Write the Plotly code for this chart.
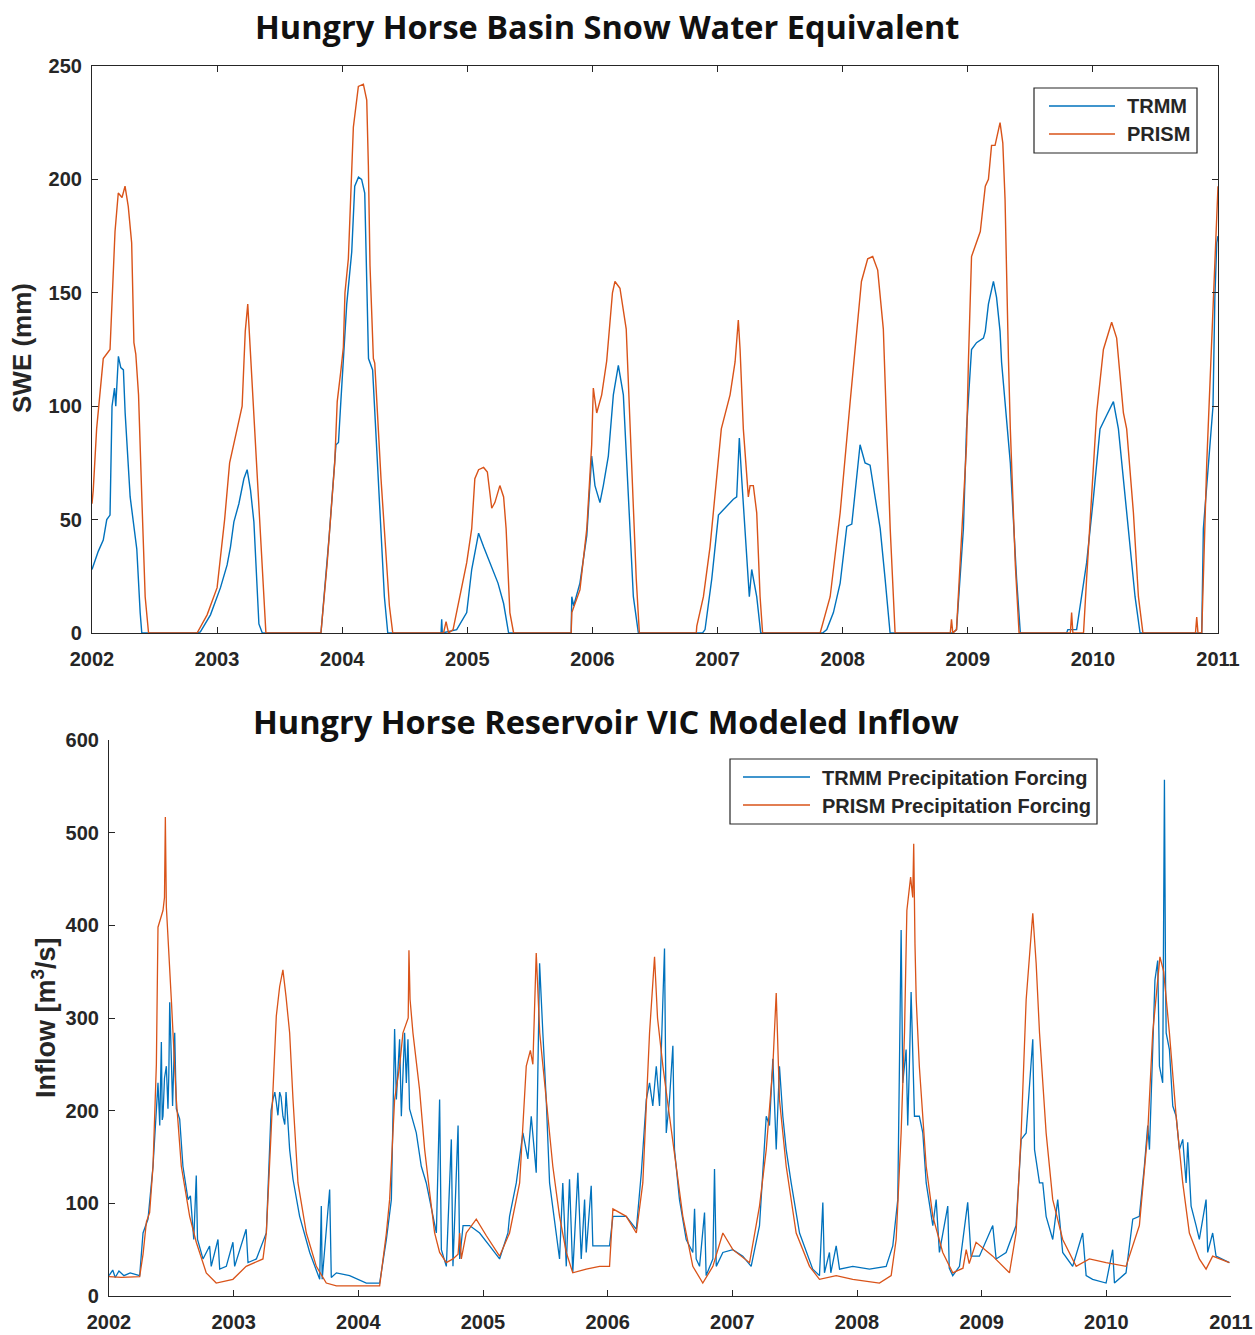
import plotly.graph_objects as go

W, H = 1255, 1335

# ---------------- Data (decimal years) ----------------
swe_trmm_t = [2002.00, 2002.05, 2002.09, 2002.118, 2002.144, 2002.16, 2002.18, 2002.19, 2002.211, 2002.23, 2002.251, 2002.265, 2002.305, 2002.345, 2002.358, 2002.385, 2002.398,
              2002.84, 2002.866, 2002.947, 2003.027, 2003.08, 2003.107, 2003.134, 2003.174, 2003.214, 2003.24, 2003.267, 2003.294, 2003.334, 2003.361,
              2003.83, 2003.896, 2003.95, 2003.97, 2003.99, 2004.009, 2004.036, 2004.076, 2004.10, 2004.13, 2004.155, 2004.18, 2004.195, 2004.21, 2004.243, 2004.283, 2004.337, 2004.364,
              2004.79, 2004.795, 2004.80, 2004.915, 2004.995, 2005.035, 2005.09, 2005.13, 2005.18, 2005.245, 2005.29, 2005.33,
              2005.83, 2005.835, 2005.85, 2005.90, 2005.955, 2005.994, 2006.02, 2006.06, 2006.087, 2006.127, 2006.167, 2006.207, 2006.247, 2006.287, 2006.327, 2006.367,
              2006.88, 2006.90, 2006.954, 2007.007, 2007.06, 2007.126, 2007.153, 2007.174, 2007.193, 2007.233, 2007.254, 2007.273, 2007.313, 2007.345,
              2007.84, 2007.873, 2007.926, 2007.98, 2008.033, 2008.073, 2008.113, 2008.139, 2008.179, 2008.219, 2008.259, 2008.30, 2008.339, 2008.379,
              2008.88, 2008.91, 2008.965, 2008.99, 2009.03, 2009.07, 2009.125, 2009.14, 2009.165, 2009.205, 2009.23, 2009.258, 2009.27, 2009.34, 2009.39, 2009.42,
              2009.79, 2009.80, 2009.87, 2009.95, 2010.005, 2010.057, 2010.11, 2010.164, 2010.204, 2010.244, 2010.284, 2010.337, 2010.377,
              2010.87, 2010.883, 2010.937, 2010.96, 2010.975, 2010.99, 2011.0]
swe_trmm_v = [28, 36, 41, 50, 52, 100, 108, 100, 122, 117, 116, 97, 60, 43, 37, 9, 0,
              0, 0.5, 8, 20, 30, 38, 49, 57, 68, 72, 63, 49, 4, 0,
              0, 43, 83, 84, 103, 121, 145, 168, 197, 201, 200, 194, 162, 121, 116, 75, 16, 0,
              0, 6, 0, 1.5, 9, 28, 44, 38, 31, 22, 13, 0,
              0, 16, 12, 22, 43, 78, 65, 57.5, 65, 78, 105, 118, 105, 60, 16, 0,
              0, 1.5, 24, 52, 55, 59, 60, 86, 68, 31, 16, 28, 16, 0,
              0, 1.5, 9, 22, 47, 48, 68, 83, 75, 74, 60, 46, 24, 0,
              0, 1.5, 46, 90, 125, 128, 130, 133, 145, 155, 148, 133, 119.5, 75, 24, 0,
              0, 1.5, 1.5, 31, 60, 90, 96, 102, 90, 68, 46, 16, 0,
              0, 46, 83, 100, 148, 172, 175]

swe_prism_t = [2002.00, 2002.01, 2002.037, 2002.064, 2002.09, 2002.144, 2002.17, 2002.184, 2002.21, 2002.24, 2002.264, 2002.29, 2002.317, 2002.335, 2002.35, 2002.372, 2002.398, 2002.425, 2002.452,
               2002.84, 2002.92, 2003.00, 2003.06, 2003.10, 2003.16, 2003.20, 2003.215, 2003.225, 2003.245, 2003.255, 2003.275, 2003.31, 2003.35, 2003.39,
               2003.83, 2003.88, 2003.94, 2003.96, 2003.99, 2004.009, 2004.022, 2004.049, 2004.089, 2004.129, 2004.169, 2004.196, 2004.209, 2004.222, 2004.249, 2004.26, 2004.31, 2004.377, 2004.404,
               2004.81, 2004.83, 2004.85, 2004.886, 2004.93, 2004.995, 2005.035, 2005.06, 2005.09, 2005.13, 2005.16, 2005.195, 2005.22, 2005.26, 2005.29, 2005.31, 2005.34, 2005.37,
               2005.83, 2005.835, 2005.90, 2005.955, 2005.994, 2006.007, 2006.034, 2006.074, 2006.114, 2006.16, 2006.18, 2006.22, 2006.27, 2006.31, 2006.35, 2006.375,
               2006.83, 2006.834, 2006.887, 2006.94, 2006.994, 2007.03, 2007.10, 2007.14, 2007.166, 2007.18, 2007.206, 2007.246, 2007.26, 2007.286, 2007.313, 2007.34, 2007.36,
               2007.82, 2007.90, 2007.98, 2008.06, 2008.113, 2008.15, 2008.20, 2008.24, 2008.28, 2008.325, 2008.352, 2008.38, 2008.419,
               2008.86, 2008.87, 2008.88, 2008.91, 2008.94, 2008.99, 2009.005, 2009.03, 2009.10, 2009.14, 2009.165, 2009.19, 2009.218, 2009.258, 2009.28, 2009.298, 2009.325, 2009.34, 2009.38, 2009.41,
               2009.82, 2009.83, 2009.84, 2009.925, 2009.95, 2009.99, 2010.03, 2010.084, 2010.15, 2010.19, 2010.244, 2010.27, 2010.324, 2010.364, 2010.40,
               2010.82, 2010.83, 2010.84, 2010.87, 2010.91, 2010.95, 2010.98, 2011.0]
swe_prism_v = [57, 63, 90, 105, 121, 125, 160, 177, 194, 192, 197, 188, 172, 128, 123, 105, 60, 16, 0,
               0, 8, 20, 50, 75, 90, 100, 120, 133, 145, 135, 115, 82, 38, 0,
               0, 31, 75, 102, 116, 126, 150, 165, 223, 241, 242, 235, 206, 162, 121, 119, 68, 12, 0,
               0, 5, 0, 1.5, 13, 31, 46, 68, 72, 73, 71, 55, 57.5, 65, 60, 46, 9, 0,
               0, 9, 19, 46, 83, 108, 97, 105, 120, 150, 155, 152, 134, 75, 24, 0,
               0, 3, 16, 38, 68, 90, 105, 119.5, 138, 125, 90, 60, 65, 65, 53, 16, 0,
               0, 16, 53, 102, 134, 155, 165, 166, 160, 134, 90, 46, 0,
               0, 6, 0, 1.5, 31, 83, 119.5, 166, 177, 197, 200, 215, 215, 225, 216, 191, 121, 90, 30, 0,
               0, 9, 0, 0, 24, 60, 97, 125, 137, 130, 97, 90, 53, 16, 0,
               0, 7, 0, 0, 75, 134, 170, 197]

inflow_prism_t = [2002.00, 2002.10, 2002.246, 2002.273, 2002.30, 2002.326, 2002.353, 2002.38, 2002.393, 2002.433, 2002.445, 2002.452, 2002.46, 2002.473, 2002.487, 2002.50, 2002.54, 2002.58, 2002.647, 2002.70, 2002.78, 2002.86, 2002.994,
                  2003.10, 2003.235, 2003.262, 2003.30, 2003.342, 2003.369, 2003.395, 2003.42, 2003.449, 2003.476, 2003.516, 2003.583, 2003.663, 2003.743, 2003.824,
                  2004.171, 2004.225, 2004.251, 2004.291, 2004.331, 2004.358, 2004.40, 2004.406, 2004.415, 2004.438, 2004.491, 2004.532, 2004.572, 2004.612, 2004.652, 2004.706, 2004.759, 2004.80, 2004.813, 2004.826, 2004.866, 2004.946,
                  2005.027, 2005.133, 2005.213, 2005.294, 2005.347, 2005.38, 2005.40, 2005.427, 2005.455, 2005.507, 2005.56, 2005.614, 2005.668, 2005.72, 2005.828, 2005.935,
                  2006.015, 2006.042, 2006.149, 2006.23, 2006.282, 2006.336, 2006.376, 2006.40, 2006.443, 2006.496, 2006.55, 2006.603, 2006.683, 2006.763, 2006.844, 2006.924,
                  2007.004, 2007.138, 2007.218, 2007.272, 2007.325, 2007.352, 2007.378, 2007.432, 2007.512, 2007.619, 2007.699, 2007.833, 2007.966,
                  2008.18, 2008.274, 2008.314, 2008.354, 2008.381, 2008.40, 2008.43, 2008.447, 2008.455, 2008.465, 2008.475, 2008.50, 2008.555, 2008.608, 2008.688, 2008.768, 2008.85, 2008.876, 2008.90, 2008.955,
                  2009.089, 2009.223, 2009.276, 2009.317, 2009.357, 2009.41, 2009.437, 2009.464, 2009.517, 2009.57, 2009.65, 2009.758, 2009.864, 2009.998,
                  2010.158, 2010.265, 2010.332, 2010.372, 2010.41, 2010.43, 2010.46, 2010.506, 2010.56, 2010.613, 2010.666, 2010.746, 2010.80, 2010.853, 2010.987]
inflow_prism_v = [21, 20, 21, 45, 80, 90, 140, 250, 398, 416, 430, 517, 420, 391, 359, 320, 212, 140, 86, 58, 25, 14, 18,
                  32, 40, 68, 176, 302, 334, 352, 323, 284, 212, 122, 68, 32, 14, 11,
                  11, 68, 104, 212, 248, 284, 300, 373, 320, 284, 223, 158, 112, 68, 47, 36, 40, 45, 68, 40, 68, 83,
                  65, 43, 68, 122, 248, 265, 250, 370, 284, 212, 140, 86, 47, 25, 29, 32,
                  32, 94, 86, 68, 122, 284, 366, 300, 248, 194, 140, 86, 32, 14, 32, 68,
                  50, 36, 97, 158, 248, 327, 212, 140, 68, 32, 18, 22, 18,
                  14, 22, 61, 176, 284, 416, 452, 430, 488, 380, 320, 248, 140, 86, 47, 25, 30, 50, 35, 58,
                  43, 25, 68, 176, 320, 413, 359, 284, 176, 104, 61, 32, 40, 36,
                  32, 76, 176, 284, 340, 366, 350, 284, 194, 122, 68, 40, 29, 43, 36]

inflow_trmm_t = [2002.00, 2002.03, 2002.05, 2002.08, 2002.12, 2002.17, 2002.246, 2002.273, 2002.313, 2002.353, 2002.393, 2002.40, 2002.407, 2002.42, 2002.427, 2002.433, 2002.445, 2002.46, 2002.473, 2002.48, 2002.487, 2002.50, 2002.51, 2002.527, 2002.54, 2002.567, 2002.593, 2002.634, 2002.653, 2002.68, 2002.70, 2002.71, 2002.754, 2002.807, 2002.82, 2002.874, 2002.888, 2002.941, 2002.994,
                 2003.008, 2003.10, 2003.115, 2003.182, 2003.262, 2003.289, 2003.30, 2003.315, 2003.33, 2003.342, 2003.355, 2003.369, 2003.38, 2003.395, 2003.41, 2003.42, 2003.449, 2003.476, 2003.529, 2003.61, 2003.69, 2003.703, 2003.71, 2003.77, 2003.783, 2003.824, 2003.93,
                 2004.064, 2004.171, 2004.225, 2004.265, 2004.291, 2004.305, 2004.331, 2004.345, 2004.371, 2004.385, 2004.398, 2004.411, 2004.465, 2004.505, 2004.545, 2004.572, 2004.626, 2004.652, 2004.666, 2004.706, 2004.746, 2004.759, 2004.80, 2004.813, 2004.84, 2004.893, 2004.973,
                 2005.053, 2005.133, 2005.20, 2005.213, 2005.267, 2005.32, 2005.36, 2005.387, 2005.427, 2005.44, 2005.454, 2005.48, 2005.507, 2005.534, 2005.588, 2005.614, 2005.64, 2005.668, 2005.694, 2005.72, 2005.761, 2005.788, 2005.815, 2005.828, 2005.868, 2005.881, 2005.935,
                 2006.015, 2006.042, 2006.149, 2006.23, 2006.27, 2006.31, 2006.336, 2006.362, 2006.39, 2006.416, 2006.443, 2006.456, 2006.47, 2006.496, 2006.523, 2006.536, 2006.576, 2006.63, 2006.683, 2006.697, 2006.71, 2006.737, 2006.777, 2006.79, 2006.844, 2006.857, 2006.871, 2006.924,
                 2007.004, 2007.084, 2007.151, 2007.218, 2007.272, 2007.298, 2007.325, 2007.352, 2007.378, 2007.405, 2007.432, 2007.472, 2007.539, 2007.645, 2007.699, 2007.726, 2007.739, 2007.779, 2007.79, 2007.833, 2007.86, 2007.966,
                 2008.10, 2008.234, 2008.287, 2008.327, 2008.354, 2008.367, 2008.394, 2008.407, 2008.42, 2008.434, 2008.461, 2008.50, 2008.528, 2008.555, 2008.608, 2008.635, 2008.661, 2008.728, 2008.74, 2008.768, 2008.822, 2008.888, 2008.915, 2008.982,
                 2009.089, 2009.116, 2009.196, 2009.276, 2009.317, 2009.357, 2009.41, 2009.424, 2009.464, 2009.49, 2009.517, 2009.57, 2009.61, 2009.65, 2009.73, 2009.81, 2009.838, 2009.89, 2009.998,
                 2010.051, 2010.065, 2010.158, 2010.212, 2010.265, 2010.305, 2010.332, 2010.346, 2010.372, 2010.39, 2010.412, 2010.426, 2010.452, 2010.466, 2010.475, 2010.48, 2010.506, 2010.533, 2010.56, 2010.586, 2010.613, 2010.64, 2010.653, 2010.68, 2010.72, 2010.746, 2010.80, 2010.813, 2010.853, 2010.88, 2010.987]
inflow_trmm_v = [22, 28, 20, 27, 22, 25, 22, 68, 83, 140, 230, 195, 184, 274, 190, 194, 235, 248, 202, 240, 317, 256, 205, 284, 202, 191, 140, 104, 108, 61, 130, 61, 40, 54, 32, 61, 29, 32, 58,
                 32, 72, 36, 40, 68, 158, 200, 212, 220, 209, 195, 220, 215, 194, 185, 220, 158, 126, 86, 47, 18, 97, 18, 115, 20, 25, 22,
                 14, 14, 61, 104, 288, 212, 277, 194, 284, 230, 277, 202, 176, 140, 122, 104, 68, 212, 50, 32, 169, 32, 184, 40, 76, 76, 68,
                 54, 40, 68, 86, 122, 176, 148, 194, 133, 248, 359, 284, 212, 122, 68, 40, 122, 32, 126, 25, 133, 40, 104, 47, 119, 54, 54,
                 54, 86, 86, 72, 133, 212, 230, 205, 248, 205, 320, 375, 176, 212, 270, 158, 104, 61, 47, 94, 40, 32, 90, 22, 40, 137, 32, 47,
                 50, 43, 32, 76, 194, 184, 256, 158, 248, 194, 158, 122, 68, 29, 22, 101, 25, 47, 25, 54, 29, 32,
                 29, 32, 54, 104, 395, 230, 266, 184, 248, 328, 194, 194, 176, 122, 76, 104, 47, 97, 30, 22, 32, 101, 43, 43,
                 76, 40, 47, 76, 169, 176, 277, 158, 122, 122, 86, 61, 104, 47, 32, 68, 22, 18, 14,
                 50, 14, 25, 83, 86, 140, 184, 158, 256, 341, 362, 248, 230, 557, 340, 284, 266, 205, 194, 158, 169, 122, 166, 97, 76, 61, 104, 47, 68, 43, 36]

years = list(range(2002, 2012))
year_labels = [str(y) for y in years]
swe_ticks = [0, 50, 100, 150, 200, 250]
inflow_ticks = [0, 100, 200, 300, 400, 500, 600]

BLUE = "#0072BD"
ORANGE = "#D95319"
AXC = "#262626"
TICKFONT = dict(family="Liberation Sans, Arial, sans-serif", size=20, color=AXC, weight="bold")


def px(x):
    return x / W


def py(y):
    return 1 - y / H


fig = go.Figure()
fig.add_trace(go.Scatter(x=swe_trmm_t, y=swe_trmm_v, mode="lines", line=dict(color=BLUE, width=1.4),
                         xaxis="x", yaxis="y", showlegend=False, name="TRMM"))
fig.add_trace(go.Scatter(x=swe_prism_t, y=swe_prism_v, mode="lines", line=dict(color=ORANGE, width=1.4),
                         xaxis="x", yaxis="y", showlegend=False, name="PRISM"))
fig.add_trace(go.Scatter(x=inflow_trmm_t, y=inflow_trmm_v, mode="lines", line=dict(color=BLUE, width=1.3),
                         xaxis="x2", yaxis="y2", showlegend=False, name="TRMM Precipitation Forcing"))
fig.add_trace(go.Scatter(x=inflow_prism_t, y=inflow_prism_v, mode="lines", line=dict(color=ORANGE, width=1.3),
                         xaxis="x2", yaxis="y2", showlegend=False, name="PRISM Precipitation Forcing"))

common = dict(showgrid=False, zeroline=False, showline=True, linecolor=AXC, linewidth=1.2,
              ticks="inside", ticklen=6, tickcolor=AXC, tickwidth=1, tickfont=TICKFONT,
              automargin=False)
xcommon = dict(ticklabelstandoff=8, **common)
ycommon = dict(ticklabelstandoff=5, **common)

fig.update_layout(
    width=W, height=H, autosize=False,
    margin=dict(l=0, r=0, t=0, b=0, pad=0),
    paper_bgcolor="white", plot_bgcolor="white",
    xaxis=dict(domain=[px(92), px(1218)], range=[2002, 2011], tickvals=years, ticktext=year_labels,
               anchor="y", mirror="ticks", **xcommon),
    yaxis=dict(domain=[py(633), py(66)], range=[0, 250], tickvals=swe_ticks,
               anchor="x", mirror="ticks", **ycommon),
    xaxis2=dict(domain=[px(109), px(1231)], range=[2002, 2011], tickvals=years, ticktext=year_labels,
                anchor="y2", **xcommon),
    yaxis2=dict(domain=[py(1296), py(740)], range=[0, 600], tickvals=inflow_ticks,
                anchor="x2", **ycommon),
)

TITLEFONT = dict(family="Open Sans, Lato, sans-serif", size=32.5, color="#111111", weight="bold")
LABELFONT = dict(family="Liberation Sans, Arial, sans-serif", size=26, color=AXC, weight="bold")
LEGFONT = dict(family="Liberation Sans, Arial, sans-serif", size=20, color=AXC, weight="bold")

annotations = [
    dict(text="Hungry Horse Basin Snow Water Equivalent", x=px(607), y=py(26), font=TITLEFONT),
    dict(text="Hungry Horse Reservoir VIC Modeled Inflow", x=px(606), y=py(721), font=TITLEFONT),
    dict(text="SWE (mm)", x=px(22), y=py(348), textangle=-90, font=LABELFONT),
    dict(text="Inflow [m<sup>3</sup>/s]", x=px(44), y=py(1018), textangle=-90, font=dict(LABELFONT, size=27)),
    dict(text="TRMM", x=px(1125), y=py(106), xanchor="left", font=LEGFONT),
    dict(text="PRISM", x=px(1125), y=py(134), xanchor="left", font=LEGFONT),
    dict(text="TRMM Precipitation Forcing", x=px(820), y=py(778), xanchor="left", font=LEGFONT),
    dict(text="PRISM Precipitation Forcing", x=px(820), y=py(806), xanchor="left", font=LEGFONT),
]
for a in annotations:
    a.setdefault("xanchor", "center")
    a.update(xref="paper", yref="paper", yanchor="middle", showarrow=False)
fig.update_layout(annotations=annotations)

shapes = [
    dict(type="rect", x0=px(1034), x1=px(1197), y0=py(153), y1=py(88), line=dict(color=AXC, width=1.2), fillcolor="white"),
    dict(type="line", x0=px(1049), x1=px(1115), y0=py(106), y1=py(106), line=dict(color=BLUE, width=1.6)),
    dict(type="line", x0=px(1049), x1=px(1115), y0=py(134), y1=py(134), line=dict(color=ORANGE, width=1.6)),
    dict(type="rect", x0=px(730), x1=px(1097), y0=py(824), y1=py(759), line=dict(color=AXC, width=1.2), fillcolor="white"),
    dict(type="line", x0=px(743), x1=px(810), y0=py(777), y1=py(777), line=dict(color=BLUE, width=1.6)),
    dict(type="line", x0=px(743), x1=px(810), y0=py(805), y1=py(805), line=dict(color=ORANGE, width=1.6)),
]
for s in shapes:
    s.update(xref="paper", yref="paper")
fig.update_layout(shapes=shapes)

fig.write_html("out.html")
